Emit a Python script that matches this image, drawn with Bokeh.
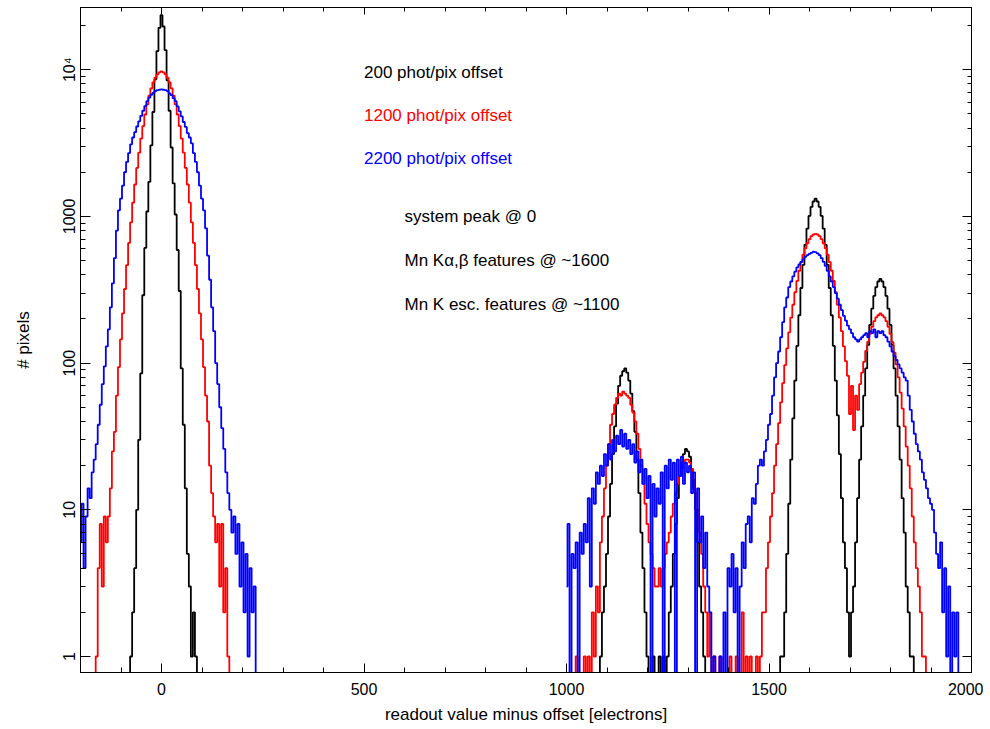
import math
from bokeh.plotting import figure
from bokeh.models import Range1d, FixedTicker, LinearAxis, LogAxis, Label
from bokeh.embed import file_html
from bokeh.resources import INLINE

# ---------------- data (counts per 5-electron bin) -------------
x_left = list(range(-200, 250, 5))     # -200 ... 245
x_right = list(range(1000, 2000, 5))   # 1000 ... 1995

black_left = [
    0, 0, 0, 0, 0, 0, 0, 0, 0, 0,
    0, 0, 0, 0, 0, 0, 0, 0, 0, 0,
    0, 0, 0, 0, 0, 1, 2, 4, 10, 30,
    85, 290, 610, 1080, 1720, 3050, 5150, 8600, 13400, 19300,
    23500, 19700, 13600, 8450, 5250, 2950, 1680, 1030, 590, 310,
    92, 38, 14, 5, 3, 1, 2, 1, 0, 0,
    0, 0, 0, 0, 0, 0, 0, 0, 0, 0,
    0, 0, 0, 0, 0, 0, 0, 0, 0, 0,
    0, 0, 0, 0, 0, 0, 0, 0, 0, 0,
]
red_left = [
    0, 0, 0, 0, 0, 0, 0, 0, 1, 4,
    8, 3, 9, 6, 9, 14, 25, 34, 60, 94,
    145, 218, 320, 465, 660, 910, 1240, 1650, 2140, 2720,
    3390, 4130, 4950, 5800, 6650, 7460, 8200, 8830, 9300, 9600,
    9750, 9600, 9300, 8830, 8200, 7460, 6650, 5800, 4950, 4130,
    3390, 2720, 2140, 1650, 1240, 910, 660, 465, 320, 218,
    145, 94, 60, 40, 20, 13, 9, 6, 8, 3,
    8, 2, 4, 1, 0, 0, 0, 0, 0, 0,
    0, 0, 0, 0, 0, 0, 0, 0, 0, 0,
]
blue_left = [
    6, 11, 4, 9, 14, 12, 18, 22, 28, 38,
    52, 72, 95, 130, 170, 240, 350, 520, 800, 1100,
    1320, 1620, 2000, 2350, 2700, 3100, 3450, 3750, 4100, 4450,
    4850, 5250, 5650, 6100, 6450, 6750, 6950, 7150, 7250, 7300,
    7350, 7300, 7250, 7150, 6900, 6700, 6400, 6100, 5620, 5200,
    4800, 4400, 4070, 3700, 3450, 3150, 2700, 2350, 2000, 1620,
    1320, 1100, 830, 540, 370, 240, 165, 100, 72, 50,
    36, 26, 18, 13, 10, 7, 9, 5, 8, 3,
    6, 2, 5, 1, 4, 2, 3, 0, 0, 0,
]

black_right = [
    0, 0, 0, 0, 0, 0, 0, 0, 0, 0,
    0, 0, 0, 0, 0, 0, 0, 1, 2, 3,
    5, 9, 15, 24, 37, 53, 70, 82, 88, 92,
    86, 76, 62, 47, 34, 22, 13, 7, 4, 2,
    1, 0, 0, 1, 0, 0, 1, 0, 1, 0,
    1, 2, 3, 5, 8, 12, 17, 21, 24, 26,
    25, 23, 19, 14, 10, 6, 3, 2, 1, 0,
    0, 0, 0, 0, 0, 0, 0, 0, 0, 0,
    0, 0, 0, 0, 0, 0, 0, 0, 0, 0,
    0, 0, 0, 0, 0, 0, 0, 0, 0, 0,
    0, 0, 0, 0, 0, 0, 1, 1, 2, 5,
    11, 22, 42, 76, 131, 212, 325, 468, 640, 826,
    1007, 1160, 1264, 1320, 1264, 1160, 1007, 826, 640, 468,
    325, 212, 131, 76, 44, 24, 12, 6, 4, 2,
    1, 2, 3, 6, 12, 22, 37, 60, 92, 133,
    182, 235, 287, 330, 360, 375, 360, 330, 287, 235,
    182, 133, 92, 60, 37, 22, 12, 7, 3, 2,
    1, 1, 0, 0, 0, 0, 0, 0, 0, 0,
    0, 0, 0, 0, 0, 0, 0, 0, 0, 0,
    0, 0, 0, 0, 0, 0, 0, 0, 0, 0,
]
red_right = [
    0, 0, 0, 0, 0, 1, 0, 0, 0, 1,
    0, 1, 0, 2, 1, 3, 2, 6, 9, 14,
    20, 28, 38, 45, 52, 58, 62, 60, 64, 62,
    60, 58, 52, 46, 40, 33, 26, 20, 15, 11,
    8, 6, 5, 4, 3, 3, 4, 3, 4, 5,
    6, 7, 9, 11, 13, 15, 17, 19, 21, 22,
    22, 21, 19, 16, 13, 10, 7, 5, 3, 2,
    1, 2, 0, 1, 0, 0, 1, 0, 0, 0,
    0, 1, 0, 0, 1, 0, 0, 2, 0, 1,
    0, 1, 0, 0, 1, 0, 1, 2, 2, 4,
    6, 9, 13, 20, 28, 39, 54, 73, 97, 126,
    162, 204, 250, 304, 363, 426, 488, 548, 606, 656,
    700, 733, 753, 760, 753, 733, 700, 656, 606, 548,
    488, 426, 363, 304, 250, 204, 165, 130, 103, 82,
    45, 70, 35, 60, 48, 72, 86, 102, 121, 140,
    158, 177, 193, 205, 212, 218, 212, 205, 193, 177,
    158, 139, 118, 98, 80, 63, 49, 37, 27, 20,
    14, 9, 6, 4, 3, 2, 1, 1, 0, 0,
    0, 0, 0, 0, 0, 0, 0, 0, 0, 0,
    0, 0, 0, 0, 0, 0, 0, 0, 0, 0,
]
blue_right = [
    3, 8, 0, 5, 4, 6, 0, 7, 5, 8,
    6, 12, 3, 14, 11, 18, 15, 20, 17, 24,
    20, 28, 22, 30, 25, 32, 28, 35, 27, 33,
    26, 30, 24, 28, 21, 25, 18, 22, 15, 19,
    12, 17, 0, 15, 9, 14, 11, 18, 0, 20,
    14, 22, 16, 21, 0, 22, 17, 23, 15, 21,
    18, 20, 13, 18, 0, 14, 6, 9, 4, 7,
    3, 2, 0, 1, 0, 0, 1, 0, 2, 0,
    4, 3, 5, 2, 4, 0, 3, 6, 4, 8,
    9, 6, 12, 11, 15, 20, 22, 20, 25, 30,
    38, 45, 60, 80, 100, 120, 150, 190, 240, 280,
    330, 360, 390, 420, 450, 470, 490, 510, 530, 545,
    555, 565, 575, 570, 560, 545, 520, 490, 460, 425,
    390, 360, 330, 300, 275, 250, 230, 210, 195, 180,
    170, 160, 150, 145, 140, 145, 150, 155, 160, 150,
    165, 160, 170, 150, 165, 160, 165, 155, 150, 140,
    130, 120, 112, 105, 98, 92, 86, 80, 76, 60,
    48, 40, 33, 28, 25, 22, 18, 16, 14, 12,
    11, 10, 7, 5, 4, 6, 2, 4, 1, 3,
    0, 2, 1, 2, 0, 0, 0, 0, 0, 0,
]

series = [
    ("black", black_left, black_right),
    ("#ff0000", red_left, red_right),
    ("#0000ff", blue_left, blue_right),
]

x_major = [0, 500, 1000, 1500, 2000]
x_minor = list(range(-100, 2000, 100))
y_major = [1, 10, 100, 1000, 10000]
y_major_labels = {1: "1", 10: "10", 100: "100", 1000: "1000", 10000: "10\u2074"}
y_minor = [m * 10 ** e for e in range(0, 5) for m in range(2, 10)]

notes = [
    ("200 phot/pix offset", "black", 500, 9600),
    ("1200 phot/pix offset", "#ff0000", 500, 4900),
    ("2200 phot/pix offset", "#0000ff", 500, 2500),
    ("system peak @ 0", "black", 600, 1000),
    ("Mn K\u03b1,\u03b2 features @ ~1600", "black", 600, 500),
    ("Mn K esc. features @ ~1100", "black", 600, 250),
]

# ---------------- figure -------------------------------------------------------------
FONT = "Liberation Sans"
FLOOR = 0.3  # empty bins are drawn below the visible range

p = figure(width=983, height=728,
           x_range=Range1d(-200, 2000),
           y_range=Range1d(10 ** -0.109, 10 ** 4.424),
           y_axis_type="log",
           output_backend="svg", toolbar_location=None,
           min_border_left=80, min_border_right=12,
           min_border_top=7, min_border_bottom=56)
p.grid.visible = False
p.outline_line_color = "black"
p.outline_line_width = 1
p.background_fill_color = "white"
p.border_fill_color = "white"

for color, left_vals, right_vals in series:
    p.step(x_left, [v if v > 0 else FLOOR for v in left_vals], mode="center",
           line_color=color, line_width=1.8)
    p.step(x_right, [v if v > 0 else FLOOR for v in right_vals], mode="center",
           line_color=color, line_width=1.8)

xt = FixedTicker(ticks=x_major, minor_ticks=x_minor)
yt = FixedTicker(ticks=y_major, minor_ticks=y_minor)


def style(ax, major_in, minor_in):
    ax.axis_line_color = "black"
    ax.major_tick_line_color = "black"
    ax.minor_tick_line_color = "black"
    ax.major_tick_in = major_in
    ax.major_tick_out = 0
    ax.minor_tick_in = minor_in
    ax.minor_tick_out = 0
    ax.major_label_text_font = FONT
    ax.major_label_text_color = "black"
    ax.axis_label_text_font = FONT
    ax.axis_label_text_font_style = "normal"
    ax.axis_label_text_color = "black"


xa = p.xaxis[0]
xa.ticker = xt
style(xa, 9, 5)
xa.major_label_text_font_size = "16px"
xa.major_label_standoff = 10
xa.axis_label = "readout value minus offset [electrons]"
xa.axis_label_text_font_size = "17px"
xa.axis_label_standoff = 7

ya = p.yaxis[0]
ya.ticker = yt
style(ya, 10, 5)
ya.major_label_overrides = y_major_labels
ya.major_label_orientation = "parallel"
ya.major_label_text_font_size = "16px"
ya.major_label_standoff = 2
ya.axis_label = "# pixels"
ya.axis_label_text_font_size = "17px"
ya.axis_label_standoff = 26

top = LinearAxis(ticker=xt)
style(top, 7, 4)
top.major_label_overrides = {t: "" for t in x_major}
top.major_label_text_font_size = "1px"
top.major_label_standoff = 0
p.add_layout(top, "above")

right = LogAxis(ticker=yt)
style(right, 9, 4)
right.major_label_overrides = {t: "" for t in y_major}
right.major_label_text_font_size = "1px"
right.major_label_standoff = 0
p.add_layout(right, "right")

for text, color, xv, yv in notes:
    p.add_layout(Label(x=xv, y=yv, text=text, text_color=color,
                       text_font=FONT, text_font_size="17px",
                       text_align="left", text_baseline="middle"))

open("out.html", "w").write(file_html(p, INLINE))
